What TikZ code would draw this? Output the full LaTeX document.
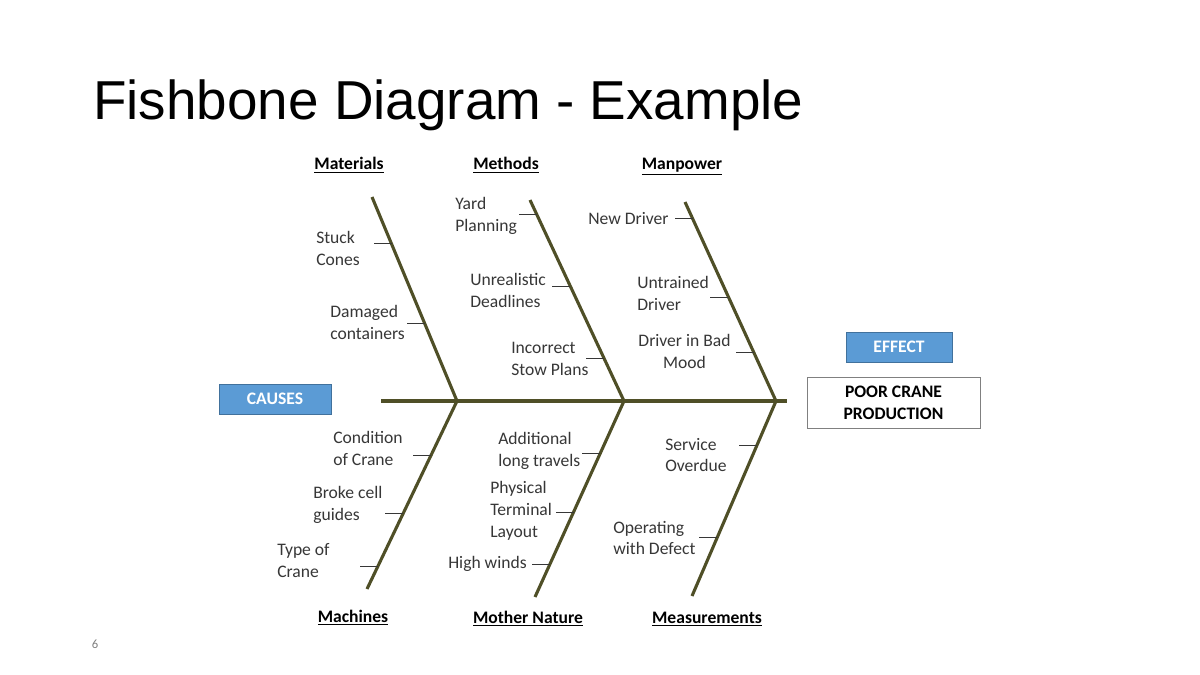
\documentclass[tikz,border=0pt]{standalone}
\usepackage{fontspec}
\setmainfont{Carlito}
\newfontfamily\titlefont{Liberation Sans}
\usetikzlibrary{calc}

\definecolor{bonecol}{RGB}{79,79,39}
\definecolor{boxblue}{RGB}{91,155,213}
\definecolor{boxedge}{RGB}{65,113,156}
\definecolor{labelgray}{RGB}{55,55,55}

\newcommand{\labelsize}{\fontsize{12.5}{15.6}\selectfont}

\tikzset{
  bone/.style={draw=bonecol, line width=2.2pt},
  twig/.style={draw=labelgray, line width=0.6pt},
  cause/.style={align=left, anchor=west, inner sep=0pt, text=labelgray, font=\labelsize},
  category/.style={anchor=base, inner sep=0pt, text=black, font=\labelsize\bfseries},
  tag/.style={fill=boxblue, draw=boxedge, line width=0.6pt, text=white,
    font=\labelsize\bfseries, minimum height=0.75cm}
}

\begin{document}
\begin{tikzpicture}[x=0.025cm, y=-0.025cm]

  \useasboundingbox[fill=white] (0,0) rectangle (1200,675);

  % title
  \node[anchor=base west, inner sep=0pt, font=\titlefont\fontsize{39}{44}\selectfont] (title) at (93,120) {Fishbone Diagram - Example};

  % spine and junctions
  \coordinate (tail) at (381,401);
  \coordinate (head) at (787,401);
  \coordinate (j1) at (457,401);
  \coordinate (j2) at (624,401);
  \coordinate (j3) at (776,401);
  \draw[bone] (tail) -- (head);

  % bone ends
  \coordinate (mat top) at (372,197);
  \coordinate (meth top) at (530,200);
  \coordinate (man top) at (685,202);
  \coordinate (mach bot) at (367,589);
  \coordinate (nat bot) at (535,597);
  \coordinate (meas bot) at (692,596);

  % upper bones
  \draw[bone] (mat top) -- (j1) coordinate[pos=0.23] (stuck b) coordinate[pos=0.618] (damaged b);
  \draw[bone] (meth top) -- (j2) coordinate[pos=0.07] (yard b) coordinate[pos=0.428] (unreal b) coordinate[pos=0.786] (stow b);
  \draw[bone] (man top) -- (j3) coordinate[pos=0.085] (newdrv b) coordinate[pos=0.477] (untrained b) coordinate[pos=0.754] (badmood b);

  % lower bones
  \draw[bone] (j1) -- (mach bot) coordinate[pos=0.287] (condition b) coordinate[pos=0.596] (brokecell b) coordinate[pos=0.878] (cranetype b);
  \draw[bone] (j2) -- (nat bot) coordinate[pos=0.265] (travels b) coordinate[pos=0.566] (layout b) coordinate[pos=0.832] (winds b);
  \draw[bone] (j3) -- (meas bot) coordinate[pos=0.226] (service b) coordinate[pos=0.697] (defect b);

  % small twigs
  \foreach \b in {stuck, damaged, yard, unreal, stow, newdrv, untrained, badmood,
                  condition, brokecell, cranetype, travels, layout, winds, service, defect}
    \draw[twig] (\b\space b) -- ++(-18,0);

  % categories
  \node[category] (materials) at (349,170) {\underline{Materials}};
  \node[category] (methods) at (506,170) {\underline{Methods}};
  \node[category] (manpower) at (682,170) {\underline{Manpower}};
  \node[category] (machines) at (353,622) {\underline{Machines}};
  \node[category] (nature) at (528,623) {\underline{Mother Nature}};
  \node[category] (measurements) at (707,623) {\underline{Measurements}};

  % causes, upper side
  \node[cause] (stuck) at (316,248) {Stuck\\Cones};
  \node[cause] (damaged) at (330,322) {Damaged\\containers};
  \node[cause] (yard) at (455,216) {Yard\\Planning};
  \node[cause] (unreal) at (470,290) {Unrealistic\\Deadlines};
  \node[cause] (stow) at (511,359) {Incorrect\\Stow Plans};
  \node[cause] (newdrv) at (588,219) {New Driver};
  \node[cause] (untrained) at (637,293) {Untrained\\Driver};
  \node[cause, align=center, anchor=center] (badmood) at (684.5,351) {Driver in Bad\\Mood};

  % causes, lower side
  \node[cause] (condition) at (333,448) {Condition\\of Crane};
  \node[cause] (brokecell) at (313,505) {Broke cell\\guides};
  \node[cause] (cranetype) at (277,561) {Type of\\Crane};
  \node[cause] (travels) at (498,451) {Additional\\long travels};
  \node[cause] (layout) at (490,511) {Physical\\Terminal\\Layout};
  \node[cause] (winds) at (448,564) {High winds};
  \node[cause] (service) at (665,455) {Service\\Overdue};
  \node[cause] (defect) at (613,538) {Operating\\with Defect};

  % boxes
  \node[tag, minimum width=2.8cm] (causes) at (275,399) {CAUSES};
  \node[tag, minimum width=2.65cm] (effect) at (899,347) {EFFECT};
  \node[draw=gray, line width=0.6pt, align=center, font=\labelsize\bfseries,
    minimum width=4.325cm, minimum height=1.275cm, inner sep=0pt] (problem) at (893.5,402.5) {POOR CRANE\\PRODUCTION};

  % page number
  \node[text=gray, font=\fontsize{9}{11}\selectfont] (pageno) at (95,644) {6};

\end{tikzpicture}
\end{document}
